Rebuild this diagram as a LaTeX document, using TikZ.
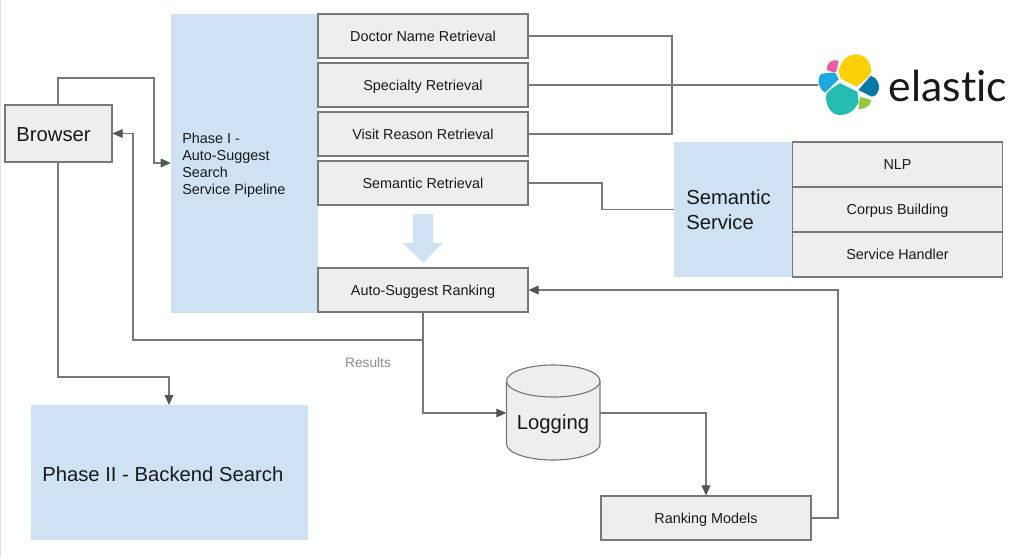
\documentclass[tikz,border=0pt]{standalone}
\usepackage{fontspec}
\setmainfont{Liberation Sans}
\newfontfamily\logofont[Ligatures=NoCommon]{Lato}
\usetikzlibrary{arrows.meta,calc}
\definecolor{boxfill}{HTML}{EEEEEE}
\definecolor{boxline}{HTML}{787878}
\definecolor{paleblue}{HTML}{CFE2F3}
\definecolor{lgyellow}{RGB}{254,208,10}
\definecolor{lgteal}{RGB}{36,187,177}
\definecolor{lgpink}{RGB}{240,91,161}
\definecolor{lgblue}{RGB}{27,169,224}
\definecolor{lgdark}{RGB}{7,119,168}
\definecolor{lggreen}{RGB}{147,201,62}
\begin{document}
\begin{tikzpicture}[x=0.75pt,y=-0.75pt,
  boxnode/.style={draw=boxline,fill=boxfill,line width=0.85pt,inner sep=0pt,minimum width=157.5pt,minimum height=33pt,font=\fontsize{10.8}{12}\selectfont,text=black!90,text height=10pt,text depth=2.5pt},
  bluenode/.style={fill=paleblue,inner sep=0pt},
  conn/.style={draw=boxline,line width=0.8pt},
  arr/.style={conn,-{Triangle[length=7.5pt,width=6.5pt,color=boxline!70!black]}},
  bigtext/.style={font=\fontsize{15.2}{18.5}\selectfont,text=black!90},
  lefttext/.style={align=left,anchor=west,inner sep=0pt}]
\useasboundingbox (0,0) rectangle (1024,557);
\fill[white] (0,0) rectangle (1024,557);
\draw[black!12,line width=0.7pt] (0.5,0) -- (0.5,557);
% blue panels
\node[bluenode,minimum width=110.25pt,minimum height=224.25pt] (phaseone) at (244.5,163.5) {};
\node[bluenode,minimum width=207.75pt,minimum height=101.25pt] (phasetwo) at (169.5,472.5) {};
\node[bluenode,minimum width=88.5pt,minimum height=101.25pt] (semservice) at (733,209.5) {};
\node[lefttext,font=\fontsize{10.8}{12.75}\selectfont,text=black!90] (phaseonetext) at (182,165.5) {Phase I -\\Auto-Suggest\\Search\\Service Pipeline};
\node[lefttext,bigtext] (phasetwotext) at (42,474) {Phase II - Backend Search};
\node[lefttext,bigtext] (semtext) at (686,210) {Semantic\\Service};
% boxes
\node[boxnode] (doctor) at (423,36) {Doctor Name Retrieval};
\node[boxnode] (specialty) at (423,85) {Specialty Retrieval};
\node[boxnode] (visit) at (423,134) {Visit Reason Retrieval};
\node[boxnode] (semantic) at (423,183) {Semantic Retrieval};
\node[boxnode] (ranking) at (423,290) {Auto-Suggest Ranking};
\node[boxnode,minimum height=33.75pt] (nlp) at (897.5,164.5) {NLP};
\node[boxnode,minimum height=33.75pt] (corpus) at (897.5,209.5) {Corpus Building};
\node[boxnode,minimum height=33.75pt] (handler) at (897.5,254.5) {Service Handler};
\node[boxnode] (models) at (706,518) {Ranking Models};
\node[boxnode,bigtext,minimum width=80.25pt,minimum height=42.75pt,text height=15pt,text depth=2.5pt] (browser) at (58.5,133.5) {\kern-7.5pt Browser};
% cylinder
\draw[draw=boxline,fill=boxfill,line width=0.85pt] (506.5,381) arc[start angle=180,end angle=360,x radius=46.75,y radius=16] -- (600,444) arc[start angle=0,end angle=180,x radius=46.75,y radius=16] -- cycle;
\draw[draw=boxline,line width=0.85pt] (506.5,381) arc[start angle=180,end angle=0,x radius=46.75,y radius=16];
\node[inner sep=0pt,minimum width=70.1pt,minimum height=71pt,bigtext] (logging) at (553.25,413) {};
\node[bigtext] (loggingtext) at (553,424) {Logging};
% block arrow
\fill[paleblue] (413,214) -- (433,214) -- (433,243) -- (443,243) -- (423,262.5) -- (403,243) -- (413,243) -- cycle;
% coordinates
\coordinate (busright) at (672,36);
\coordinate (logoend) at (818,85);
\coordinate (semmid) at (602,183);
\coordinate (junction) at (423,340);
\coordinate (backleft) at (133,340);
\coordinate (browserup) at (58,78);
\coordinate (upright) at (154,78);
\coordinate (phaseinput) at (154,163);
\coordinate (browserdown) at (58,377);
\coordinate (phasetwotop) at (169,405);
\coordinate (logdown) at (423,413);
\coordinate (modeldown) at (706,413);
\coordinate (modelright) at (838,518);
% connectors
\draw[conn] (doctor.east) -- (busright) -- (busright |- visit.east) -- (visit.east);
\draw[conn] (specialty.east) -- (logoend);
\draw[conn] (semantic.east) -- (semmid) -- (semmid |- semservice.west) -- (semservice.west);
\draw[conn] (ranking.south) -- (junction);
\draw[arr] (junction) -- (backleft) -- (backleft |- browser.east) -- (browser.east);
\draw[arr] (junction) -- (logdown) -- (logging.west);
\draw[arr] (logging.east) -- (modeldown) -- (models.north);
\draw[arr] (models.east) -- (modelright) -- (modelright |- ranking.east) -- (ranking.east);
\draw[arr] (browser.north -| browserup) -- (browserup) -- (upright) -- (phaseinput) -- (phaseone.west |- phaseinput);
\draw[arr] (browser.south -| browserdown) -- (browserdown) -- (phasetwotop |- browserdown) -- (phasetwotop);
\node[font=\fontsize{10.3}{12}\selectfont,text=black!45,inner sep=0pt] (results) at (368,363) {Results};
% logo
\begin{scope}[shift={(800,40)},x=0.25pt,y=-0.25pt]
\fill[lgyellow] (116,92) .. controls (125,55) and (150,43) .. (165,43) .. controls (195,43) and (213,65) .. (213,92) .. controls (213,105) and (205,112) .. (170,140) -- (122,116) -- cycle;
\fill[lgteal] (120,130) -- (172,155) -- (176,185) .. controls (165,215) and (140,225) .. (120,225) .. controls (95,225) and (78,200) .. (78,170) .. controls (78,155) and (95,145) .. (120,130) -- cycle;
\fill[lgpink] (80,86) .. controls (80,68) and (98,56) .. (116,62) -- (108,97) .. controls (98,96) and (80,94) .. (80,86) -- cycle;
\fill[lgblue] (62,103) .. controls (75,98) and (90,98) .. (105,98) -- (116,118) -- (75,158) .. controls (60,150) and (48,125) .. (62,103) -- cycle;
\fill[lgdark] (212,108) .. controls (235,115) and (240,135) .. (236,150) .. controls (230,165) and (225,170) .. (215,170) -- (175,150) -- cycle;
\fill[lggreen] (180,170) -- (214,180) .. controls (210,200) and (195,208) .. (175,207) -- cycle;
\end{scope}
\node[font=\logofont\fontsize{32}{33}\selectfont,text=black!90,inner sep=0pt] (elastic) at (948,86) {elastic};
\end{tikzpicture}
\end{document}
